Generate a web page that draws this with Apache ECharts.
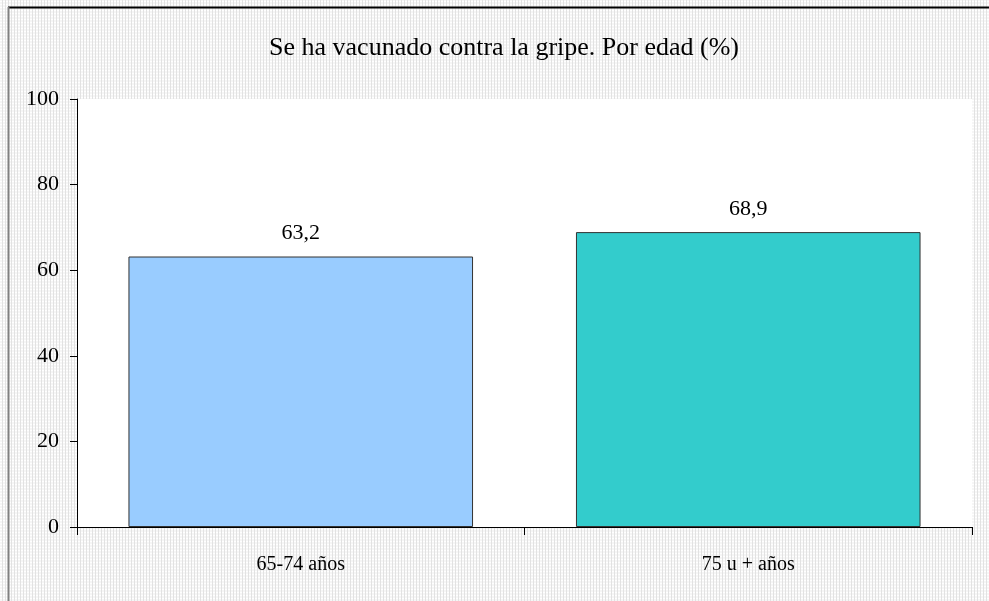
<!DOCTYPE html>
<html>
<head>
<meta charset="utf-8">
<script src="https://cdn.jsdelivr.net/npm/echarts@6/dist/echarts.min.js"></script>
<style>
  html, body { margin: 0; padding: 0; background: #fff; }
  #chart {
    width: 989px;
    height: 601px;
    background-color: #f6f6f6;
    background-image:
      repeating-linear-gradient(90deg, rgba(0,0,0,0) 0 2px, #e2e2e2 2px 3px),
      repeating-linear-gradient(0deg, rgba(0,0,0,0) 0 2px, #ffffff 2px 3px);
  }
</style>
</head>
<body>
<div id="chart"></div>
<script>
// datos del gráfico
const categories = ["65-74 años", "75 u + años"];
const values = [63.2, 68.9];
const barColors = ["#99ccff", "#33cccc"];
const yTicks = [0, 20, 40, 60, 80, 100];

const chart = echarts.init(document.getElementById("chart"), null, { renderer: "canvas" });

const serif = "Liberation Serif, Times New Roman, serif";

const option = {
  backgroundColor: "transparent",
  animation: false,
  title: {
    text: "Se ha vacunado contra la gripe. Por edad (%)",
    left: 499,
    top: 30,
    textAlign: "center",
    textStyle: { fontFamily: serif, fontWeight: "normal", fontSize: 26, color: "#000" }
  },
  graphic: [
    { type: "line", shape: { x1: 8, y1: 7.5, x2: 989, y2: 7.5 }, style: { stroke: "#000", lineWidth: 2 } },
    { type: "line", shape: { x1: 8.5, y1: 7, x2: 8.5, y2: 601 }, style: { stroke: "#808080", lineWidth: 2 } }
  ],
  grid: { left: 77, right: 17, top: 99, bottom: 74, backgroundColor: "#fff", show: true, borderWidth: 0 },
  xAxis: {
    type: "category",
    data: categories,
    axisLine: { show: true, lineStyle: { color: "#000", width: 1 } },
    axisTick: { show: true, length: 8, lineStyle: { color: "#000" } },
    axisLabel: { fontFamily: serif, fontSize: 20, color: "#000", margin: 28 },
    splitLine: { show: false }
  },
  yAxis: {
    type: "value",
    min: 0,
    max: 100,
    interval: 20,
    axisLine: { show: true, lineStyle: { color: "#000", width: 1 } },
    axisTick: { show: true, length: 7, lineStyle: { color: "#000" } },
    axisLabel: {
      fontFamily: serif, fontSize: 22, color: "#000", margin: 18,
      formatter: v => (yTicks.includes(v) ? String(v) : "")
    },
    splitLine: { show: false }
  },
  series: [{
    type: "bar",
    barWidth: "77%",
    data: values.map((v, i) => ({
      value: v,
      itemStyle: { color: barColors[i], borderColor: "#333", borderWidth: 1 }
    })),
    label: {
      show: true,
      position: "top",
      distance: 12,
      fontFamily: serif,
      fontSize: 22,
      color: "#000",
      formatter: p => String(p.value).replace(".", ",")
    }
  }]
};

chart.setOption(option);
</script>
</body>
</html>
